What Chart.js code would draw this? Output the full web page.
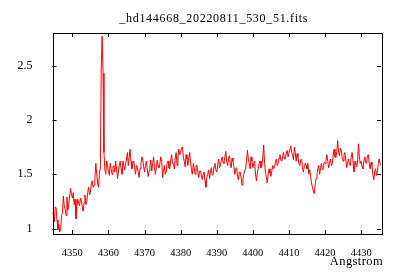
<!DOCTYPE html>
<html>
<head>
<meta charset="utf-8">
<script src="https://cdn.jsdelivr.net/npm/chart.js@4.4.0/dist/chart.umd.min.js"></script>
<style>
  body { margin: 0; background: #fff; }
  canvas { display: block; }
</style>
</head>
<body>
<canvas id="myChart" width="400" height="280"></canvas>
<script>
// spectrum, sampled every 0.25 Angstrom from 4344.5
const title = '_hd144668_20220811_530_51.fits'
const xLabel = 'Angstrom'
const START = 4344.5
const STEP = 0.25
const flux = [
  1.15, 1.10,
  1.06, 1.20, 1.19, 1.08,  0.99, 1.04, 0.97, 0.98,  1.12, 1.14, 1.30, 1.21,
  1.18, 1.12, 1.29, 1.17,  1.22, 1.30, 1.37, 1.32,  1.28, 1.33, 1.22, 1.27,
  1.09, 1.20, 1.27, 1.23,  1.21, 1.28, 1.26, 1.20,  1.16, 1.24, 1.31, 1.22,
  1.25, 1.33, 1.38, 1.31,  1.33, 1.41, 1.44, 1.38,  1.40, 1.46, 1.60, 1.50,
  1.42, 1.38, 1.52, 1.55,  2.46, 2.77, 2.43, 1.70,  1.55, 1.50, 1.62, 1.58,
  1.52, 1.49, 1.60, 1.55,  1.50, 1.57, 1.58, 1.52,  1.62, 1.55, 1.46, 1.52,
  1.58, 1.62, 1.55, 1.50,  1.62, 1.58, 1.54, 1.60,  1.64, 1.70, 1.58, 1.66,
  1.73, 1.62, 1.55, 1.60,  1.62, 1.56, 1.50, 1.58,  1.56, 1.52, 1.47, 1.55,
  1.60, 1.66, 1.64, 1.57,  1.52, 1.58, 1.62, 1.55,  1.48, 1.53, 1.58, 1.63,
  1.53, 1.60, 1.66, 1.57,  1.50, 1.56, 1.63, 1.58,  1.56, 1.60, 1.66, 1.62,
  1.47, 1.54, 1.58, 1.50,  1.52, 1.60, 1.62, 1.56,  1.55, 1.63, 1.68, 1.60,
  1.60, 1.55, 1.65, 1.70,  1.58, 1.66, 1.73, 1.68,  1.70, 1.74, 1.75, 1.66,
  1.62, 1.57, 1.68, 1.64,  1.58, 1.65, 1.70, 1.60,  1.54, 1.50, 1.60, 1.56,
  1.50, 1.58, 1.58, 1.52,  1.47, 1.53, 1.53, 1.49,  1.45, 1.50, 1.52, 1.44,
  1.38, 1.47, 1.50, 1.54,  1.46, 1.52, 1.56, 1.49,  1.50, 1.57, 1.60, 1.54,
  1.52, 1.58, 1.64, 1.56,  1.58, 1.63, 1.66, 1.61,  1.60, 1.66, 1.71, 1.62,
  1.58, 1.64, 1.67, 1.60,  1.56, 1.65, 1.62, 1.57,  1.50, 1.55, 1.56, 1.48,
  1.45, 1.52, 1.52, 1.47,  1.40, 1.46, 1.50, 1.53,  1.55, 1.62, 1.72, 1.64,
  1.60, 1.55, 1.66, 1.62,  1.56, 1.60, 1.62, 1.50,  1.44, 1.52, 1.55, 1.60,
  1.62, 1.56, 1.58, 1.65,  1.77, 1.60, 1.52, 1.47,  1.42, 1.50, 1.55, 1.51,
  1.48, 1.53, 1.58, 1.55,  1.56, 1.61, 1.64, 1.58,  1.60, 1.65, 1.68, 1.63,
  1.62, 1.66, 1.70, 1.64,  1.64, 1.69, 1.72, 1.66,  1.66, 1.73, 1.76, 1.70,
  1.68, 1.63, 1.75, 1.70,  1.62, 1.69, 1.66, 1.60,  1.58, 1.63, 1.64, 1.56,
  1.52, 1.57, 1.60, 1.58,  1.55, 1.60, 1.50, 1.54,  1.48, 1.42, 1.38, 1.35,
  1.32, 1.40, 1.46, 1.50,  1.55, 1.58, 1.50, 1.56,  1.60, 1.54, 1.55, 1.61,
  1.60, 1.63, 1.68, 1.62,  1.56, 1.60, 1.64, 1.58,  1.60, 1.67, 1.73, 1.66,
  1.65, 1.71, 1.81, 1.70,  1.67, 1.74, 1.72, 1.65,  1.62, 1.68, 1.70, 1.63,
  1.56, 1.61, 1.64, 1.59,  1.58, 1.66, 1.70, 1.62,  1.52, 1.58, 1.62, 1.57,
  1.60, 1.78, 1.66, 1.60,  1.62, 1.57, 1.55, 1.62,  1.66, 1.61, 1.60, 1.67,
  1.68, 1.60, 1.55, 1.61,  1.58, 1.50, 1.45, 1.52,  1.55, 1.49, 1.52, 1.60,
  1.64, 1.60, 1.58
]
const xTicks = [4350, 4360, 4370, 4380, 4390, 4400, 4410, 4420, 4430]
const yTicks = [1, 1.5, 2, 2.5]

const points = flux.map((f, i) => ({ x: START + i * STEP, y: f }))

const FONT = 'Liberation Serif'

// frame with inward ticks on all four sides, plus title and axis label
const framePlugin = {
  id: 'frame',
  afterDraw(chart) {
    const c = chart.ctx
    const a = chart.chartArea
    const xs = chart.scales.x
    const ys = chart.scales.y
    c.save()
    c.strokeStyle = '#000'
    c.lineWidth = 1
    c.strokeRect(Math.round(a.left) + 0.5, Math.round(a.top) + 0.5,
      Math.round(a.right - a.left), Math.round(a.bottom - a.top))
    c.beginPath()
    xTicks.forEach(v => {
      const px = Math.round(xs.getPixelForValue(v)) + 0.5
      c.moveTo(px, a.bottom); c.lineTo(px, a.bottom - 4)
      c.moveTo(px, a.top); c.lineTo(px, a.top + 4)
    })
    yTicks.forEach(v => {
      const py = Math.round(ys.getPixelForValue(v)) + 0.5
      c.moveTo(a.left, py); c.lineTo(a.left + 4, py)
      c.moveTo(a.right, py); c.lineTo(a.right - 4, py)
    })
    c.stroke()
    c.fillStyle = '#000'
    c.font = '12px "' + FONT + '"'
    c.letterSpacing = '0.7px'
    c.textAlign = 'center'
    c.textBaseline = 'middle'
    c.fillText(title, (a.left + a.right) / 2 - 3, 19)
    c.textAlign = 'right'
    c.letterSpacing = '0.4px'
    c.font = '12.5px "' + FONT + '"'
    c.fillText(xLabel, 383, 262)
    c.restore()
  }
}

const ctx = document.getElementById('myChart').getContext('2d')
const sensorsChart = new Chart(ctx, {
  type: 'line',
  data: {
    datasets: [{
      data: points,
      borderColor: '#ff0000',
      backgroundColor: '#ff0000',
      borderWidth: 1,
      pointRadius: 0,
      tension: 0,
    }],
  },
  options: {
    responsive: false,
    animation: false,
    devicePixelRatio: 1,
    layout: { padding: { left: 0, right: 19, top: 33, bottom: 0 } },
    plugins: {
      legend: { display: false },
      title: { display: false },
      tooltip: { enabled: false },
    },
    scales: {
      x: {
        type: 'linear',
        min: 4344.5,
        max: 4435.5,
        afterBuildTicks: s => { s.ticks = xTicks.map(v => ({ value: v })) },
        afterFit: s => { s.height = 46 },
        grid: { display: false },
        border: { display: false },
        ticks: {
          color: '#000', font: { family: FONT, size: 10.5 }, padding: 5, maxRotation: 0,
          callback: v => String(v),
        },
      },
      y: {
        min: 0.95,
        max: 2.8,
        afterBuildTicks: s => { s.ticks = yTicks.map(v => ({ value: v })) },
        afterFit: s => { s.width = 52.5 },
        grid: { display: false },
        border: { display: false },
        ticks: {
          color: '#000', font: { family: FONT, size: 12 }, padding: 12,
          callback: v => String(v),
        },
      },
    },
  },
  plugins: [framePlugin],
})
</script>
</body>
</html>
